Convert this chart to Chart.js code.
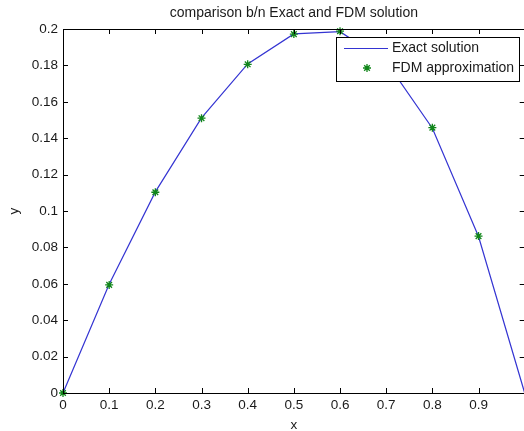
<!DOCTYPE html>
<html>
<head>
<meta charset="utf-8">
<script src="https://cdn.jsdelivr.net/npm/chart.js@4/dist/chart.umd.min.js"></script>
<style>
  html, body { margin: 0; padding: 0; background: #fff; overflow: hidden; width: 524px; height: 431px; }
  canvas { display: block; }
</style>
</head>
<body>
<canvas id="c" width="530" height="431"></canvas>
<script>
// ---- data ----
const exactX = [0, 0.1, 0.2, 0.3, 0.4, 0.5, 0.6, 0.7, 0.8, 0.9, 1.0];
const exactY = [0, 0.0597, 0.1105, 0.1512, 0.1808, 0.1973, 0.1985, 0.182, 0.1455, 0.086, 0];
const fdmX = [0, 0.1, 0.2, 0.3, 0.4, 0.5, 0.6, 0.7, 0.8, 0.9];
const fdmY = [0, 0.0594, 0.1103, 0.1510, 0.1806, 0.1972, 0.1988, 0.1818, 0.1458, 0.0862];
const xTicks = [0, 0.1, 0.2, 0.3, 0.4, 0.5, 0.6, 0.7, 0.8, 0.9, 1];
const yTicks = [0, 0.02, 0.04, 0.06, 0.08, 0.1, 0.12, 0.14, 0.16, 0.18, 0.2];
const titleText = 'comparison b/n Exact and FDM solution';
const xLabel = 'x';
const yLabel = 'y';
const seriesNames = ['Exact solution', 'FDM approximation'];

const FONT = '"Liberation Sans", Arial, Helvetica, sans-serif';
const lineColor = '#3434d2';
const markColor = '#11861a';
const txtColor = '#1a1a1a';

const fmt = v => (v >= 1 ? '' : Number(Number(v).toFixed(3)).toString());

const frame = {
  id: 'frame',
  afterDatasetsDraw(chart) {
    const { ctx, chartArea: a, scales } = chart;
    ctx.save();
    ctx.strokeStyle = '#000';
    ctx.lineWidth = 1;
    ctx.strokeRect(Math.round(a.left) + 0.5, Math.round(a.top) + 0.5,
                   Math.round(a.right - a.left), Math.round(a.bottom - a.top));
    const L = 5;
    ctx.beginPath();
    xTicks.forEach(v => {
      const px = Math.round(scales.x.getPixelForValue(v)) + 0.5;
      ctx.moveTo(px, a.bottom); ctx.lineTo(px, a.bottom - L);
      ctx.moveTo(px, a.top); ctx.lineTo(px, a.top + L);
    });
    yTicks.forEach(v => {
      const py = Math.round(scales.y.getPixelForValue(v)) + 0.5;
      ctx.moveTo(a.left, py); ctx.lineTo(a.left + L, py);
      ctx.moveTo(a.right, py); ctx.lineTo(a.right - L, py);
    });
    ctx.stroke();

    // title
    ctx.fillStyle = txtColor;
    ctx.font = '14px ' + FONT;
    ctx.textAlign = 'center';
    ctx.textBaseline = 'middle';
    ctx.fillText(titleText, (a.left + a.right) / 2, 13);

    // legend box
    const bw = 183, bh = 44;
    const bx = Math.round(a.right - 5.6 - bw), by = Math.round(a.top + 8);
    ctx.fillStyle = '#fff';
    ctx.fillRect(bx, by, bw, bh);
    ctx.strokeStyle = '#000';
    ctx.lineWidth = 1;
    ctx.strokeRect(bx + 0.5, by + 0.5, bw, bh);
    ctx.strokeStyle = lineColor;
    ctx.lineWidth = 1.2;
    ctx.beginPath();
    ctx.moveTo(bx + 8, by + 11.5); ctx.lineTo(bx + 52, by + 11.5);
    ctx.stroke();
    ctx.strokeStyle = markColor;
    ctx.lineWidth = 1.3;
    const r = 4, cx = bx + 31, cy = by + 31;
    ctx.beginPath();
    ctx.moveTo(cx - r, cy); ctx.lineTo(cx + r, cy);
    ctx.moveTo(cx, cy - r); ctx.lineTo(cx, cy + r);
    const d = r * 0.707;
    ctx.moveTo(cx - d, cy - d); ctx.lineTo(cx + d, cy + d);
    ctx.moveTo(cx - d, cy + d); ctx.lineTo(cx + d, cy - d);
    ctx.stroke();
    ctx.fillStyle = txtColor;
    ctx.font = '14px ' + FONT;
    ctx.textAlign = 'left';
    ctx.fillText(seriesNames[0], bx + 56, by + 11.5);
    ctx.fillText(seriesNames[1], bx + 56, by + 31);
    ctx.restore();
  }
};

new Chart(document.getElementById('c'), {
  type: 'scatter',
  data: {
    datasets: [
      {
        label: seriesNames[0],
        data: exactX.map((x, i) => ({ x, y: exactY[i] })),
        showLine: true,
        borderColor: lineColor,
        borderWidth: 1.2,
        pointRadius: 0,
        tension: 0,
        order: 2
      },
      {
        label: seriesNames[1],
        data: fdmX.map((x, i) => ({ x, y: fdmY[i] })),
        showLine: false,
        pointStyle: 'star',
        pointRadius: 4,
        borderColor: markColor,
        backgroundColor: markColor,
        pointBorderWidth: 1.3,
        order: 1
      }
    ]
  },
  options: {
    responsive: false,
    animation: false,
    devicePixelRatio: 1,
    clip: false,
    layout: { padding: { top: 29, right: 4.4, left: 0, bottom: 0 } },
    plugins: { legend: { display: false }, tooltip: { enabled: false }, title: { display: false } },
    scales: {
      x: {
        type: 'linear', min: 0, max: 1,
        afterBuildTicks: s => { s.ticks = xTicks.map(v => ({ value: v })); },
        afterFit: s => { s.height = 38; },
        grid: { display: false, drawTicks: false },
        border: { display: false },
        ticks: { color: txtColor, font: { family: FONT, size: 13.5 }, padding: 4, maxRotation: 0, autoSkip: false, callback: v => fmt(v) },
        title: { display: true, text: xLabel, color: txtColor, font: { family: FONT, size: 13.5 }, padding: { top: 0, bottom: -2 } }
      },
      y: {
        type: 'linear', min: 0, max: 0.2,
        afterBuildTicks: s => { s.ticks = yTicks.map(v => ({ value: v })); },
        afterFit: s => { s.width = 63; },
        grid: { display: false, drawTicks: false },
        border: { display: false },
        ticks: { color: txtColor, font: { family: FONT, size: 13.5 }, padding: 5, autoSkip: false, callback: v => fmt(v) },
        title: { display: true, text: yLabel, color: txtColor, font: { family: FONT, size: 13.5 }, padding: { top: 6, bottom: 0 } }
      }
    }
  },
  plugins: [frame]
});
</script>
</body>
</html>
